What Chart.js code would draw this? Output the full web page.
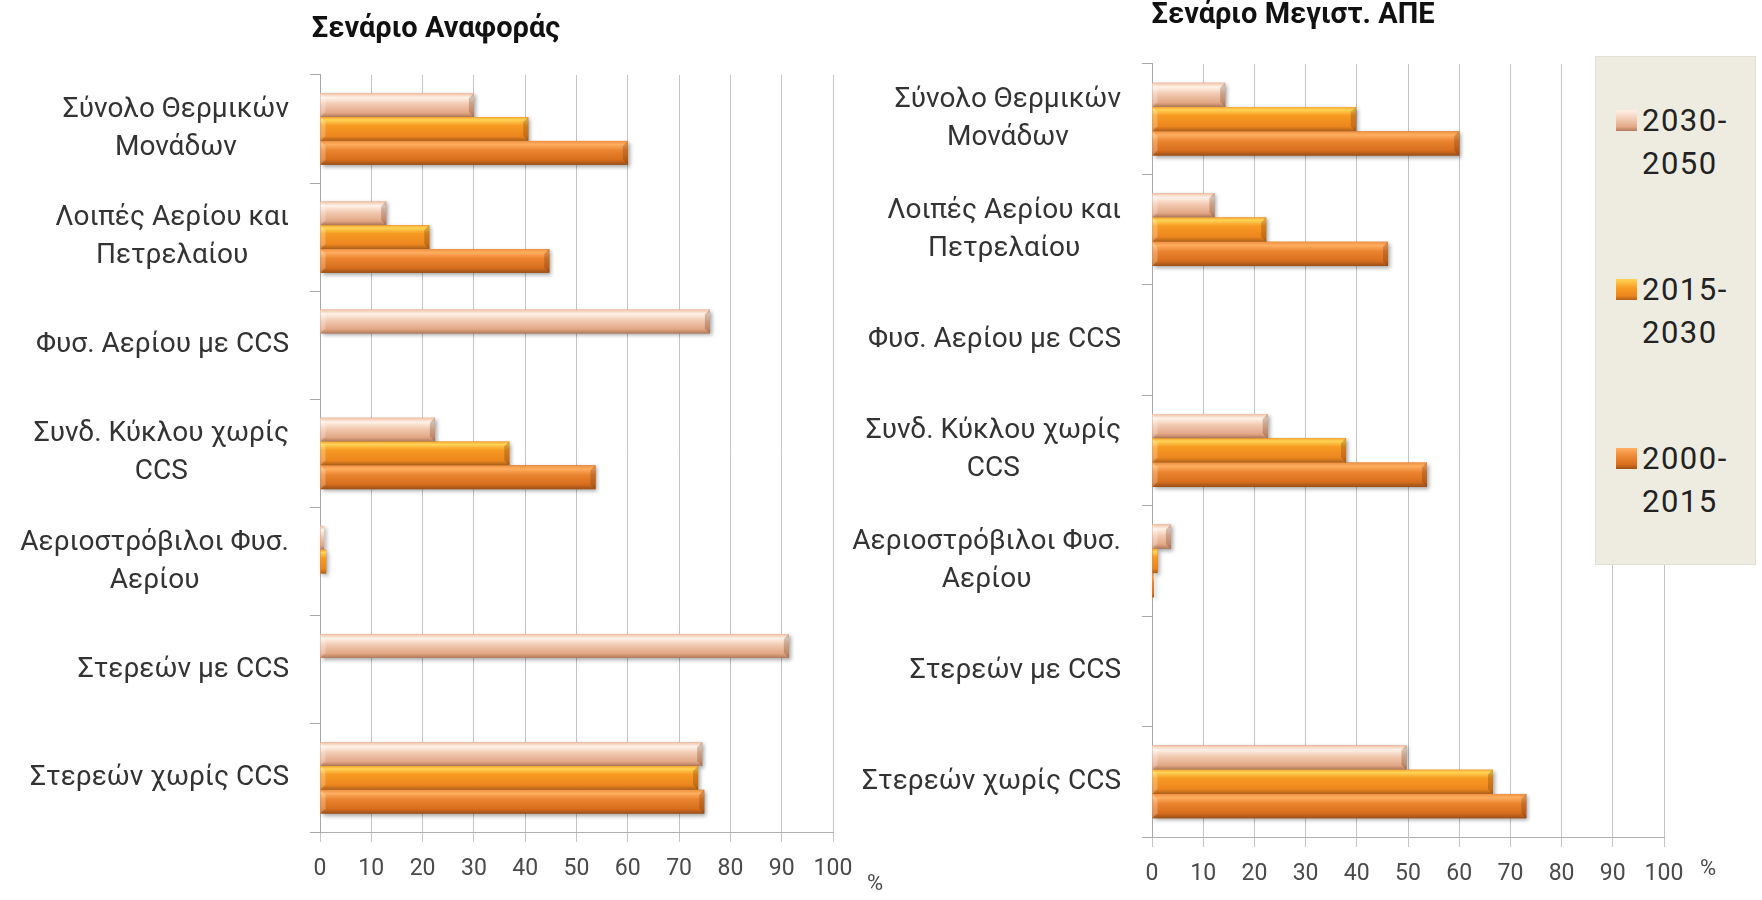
<!DOCTYPE html>
<html>
<head>
<meta charset="utf-8">
<script src="https://cdn.jsdelivr.net/npm/chart.js@4.4.1/dist/chart.umd.min.js"></script>
<style>
	html, body { margin: 0; padding: 0; background: #fff; }
	body { position: relative; width: 1762px; height: 900px; overflow: hidden; font-family: Roboto, sans-serif; }
	#refChart { position: absolute; left: -14px; top: 0; }
	#maxChart { position: absolute; left: 826px; top: 0; }
	#legend { position: absolute; left: 1595px; top: 56px; width: 161px; height: 509px; background: #EEECE1; border: 1px solid #E2E0D6; box-sizing: border-box; }
	.item { position: absolute; left: 0; width: 100%; font-size: 31px; line-height: 43px; color: #222; letter-spacing: 1.5px; }
	.item i { position: absolute; left: 20px; top: 11px; width: 21px; height: 21px; }
	.item span { display: block; margin-left: 46px; }
</style>
</head>
<body>
<canvas id="refChart" width="900" height="900"></canvas>
<canvas id="maxChart" width="910" height="900"></canvas>
<div id="legend"></div>
<script>
// categories, top to bottom
const categories = [
	['Σύνολο Θερμικών', 'Μονάδων'],
	['Λοιπές Αερίου και', 'Πετρελαίου'],
	['Φυσ. Αερίου με CCS'],
	['Συνδ. Κύκλου χωρίς', 'CCS'],
	['Αεριοστρόβιλοι Φυσ.', 'Αερίου'],
	['Στερεών με CCS'],
	['Στερεών χωρίς CCS'],
];

const periods = ['2030-2050', '2015-2030', '2000-2015'];

// Σενάριο Αναφοράς (%)
const ref_2030_2050 = [30, 12.9, 76, 22.4, 0.8, 91.4, 74.5];
const ref_2015_2030 = [40.6, 21.3, null, 36.9, 1.2, null, 73.7];
const ref_2000_2015 = [60, 44.7, null, 53.7, null, null, 74.9];

// Σενάριο Μεγιστ. ΑΠΕ (%)
const max_2030_2050 = [14.3, 12.2, null, 22.6, 3.7, null, 49.7];
const max_2015_2030 = [39.8, 22.3, null, 37.9, 1.1, null, 66.6];
const max_2000_2015 = [60, 46.1, null, 53.7, 0.2, null, 73.1];

const xMin = 0;
const xMax = 100;
const xStep = 10;

// base colour + gradient stops (top -> bottom) per period
const barStyles = [
	{ base: '#E9B596', pos: [0, 0.18, 0.45, 0.82, 1], stops: ['#F0C0A4', '#FFF2E8', '#F2CAB2', '#E2A786', '#B27A5C'] },
	{ base: '#F39321', pos: [0, 0.12, 0.35, 0.8, 1], stops: ['#F7A530', '#FFD455', '#F79A22', '#EC861E', '#B0601A'] },
	{ base: '#E07B26', pos: [0, 0.15, 0.4, 0.8, 1], stops: ['#EE9040', '#FFAE60', '#EA8430', '#D76E1E', '#9A5018'] },
];

function makeGradient(ctx, top, bottom, st) {
	const g = ctx.createLinearGradient(0, top, 0, bottom);
	st.stops.forEach((c, k) => g.addColorStop(st.pos[k], c));
	return g;
}

// draws the glossy bevel look over the library's own bar elements
const bevelBars = {
	id: 'bevelBars',
	afterDatasetsDraw(chart) {
		const ctx = chart.ctx;
		chart.data.datasets.forEach((ds, di) => {
			const meta = chart.getDatasetMeta(di);
			const st = barStyles[di];
			meta.data.forEach((bar, i) => {
				if (ds.data[i] === null) return;
				const left = Math.min(bar.base, bar.x);
				const right = Math.max(bar.base, bar.x);
				const top = bar.y - bar.height / 2;
				const bottom = bar.y + bar.height / 2;
				const w = Math.max(right - left, 1.5);
				ctx.save();
				ctx.shadowColor = 'rgba(0,0,0,0.35)';
				ctx.shadowBlur = 4;
				ctx.shadowOffsetX = 2;
				ctx.shadowOffsetY = 2;
				ctx.fillStyle = makeGradient(ctx, top, bottom, st);
				ctx.fillRect(left, top, w, bottom - top);
				ctx.restore();
				// end chamfers
				if (w > 8) {
					ctx.save();
					ctx.fillStyle = 'rgba(90,40,10,0.25)';
					ctx.beginPath();
					ctx.moveTo(left + w, top);
					ctx.lineTo(left + w - 5, top + 5);
					ctx.lineTo(left + w - 5, bottom - 5);
					ctx.lineTo(left + w, bottom);
					ctx.closePath();
					ctx.fill();
					ctx.fillStyle = 'rgba(255,255,255,0.25)';
					ctx.beginPath();
					ctx.moveTo(left, top);
					ctx.lineTo(left + 5, top + 5);
					ctx.lineTo(left + 5, bottom - 5);
					ctx.lineTo(left, bottom);
					ctx.closePath();
					ctx.fill();
					ctx.restore();
				}
			});
		});
	},
};

// multi-line category labels, lines centred within a right-aligned block
const blockLabels = {
	id: 'blockLabels',
	afterDraw(chart, args, opts) {
		const ctx = chart.ctx;
		const scale = chart.scales.y;
		ctx.save();
		ctx.font = opts.size + 'px ' + opts.family;
		ctx.fillStyle = opts.color;
		ctx.textAlign = 'center';
		ctx.textBaseline = 'middle';
		chart.data.labels.forEach((lines, i) => {
			const y = scale.getPixelForTick(i);
			const w = Math.max(...lines.map((l) => ctx.measureText(l).width));
			const cx = chart.chartArea.left - opts.gap - w / 2;
			lines.forEach((l, k) => {
				ctx.fillText(l, cx, y + (k - (lines.length - 1) / 2) * opts.lineHeight);
			});
		});
		ctx.restore();
	},
};

// the "%" unit next to the value axis
const unitLabel = {
	id: 'unitLabel',
	afterDraw(chart, args, opts) {
		const ctx = chart.ctx;
		ctx.save();
		ctx.font = opts.size + 'px ' + opts.family;
		ctx.fillStyle = opts.color;
		ctx.textAlign = 'center';
		ctx.textBaseline = 'middle';
		ctx.fillText(opts.text, chart.chartArea.right + opts.dx, chart.chartArea.bottom + opts.dy);
		ctx.restore();
	},
};

function makeChart(id, title, series, lay) {
	const datasets = series.map((data, k) => ({
		label: periods[k],
		data: data,
		backgroundColor: barStyles[k].base,
		borderWidth: 0,
		categoryPercentage: 0.66,
		barPercentage: 1.0,
	}));

	return new Chart(document.getElementById(id), {
		type: 'bar',
		data: { labels: categories, datasets: datasets },
		plugins: [bevelBars, blockLabels, unitLabel],
		options: {
			indexAxis: 'y',
			responsive: false,
			animation: false,
			devicePixelRatio: 1,
			layout: { padding: { left: lay.padLeft, right: lay.padRight, top: 0, bottom: 0 } },
			scales: {
				x: {
					min: xMin,
					max: xMax,
					ticks: {
						stepSize: xStep,
						color: '#4A4A4A',
						padding: 13,
						font: { family: 'Roboto', size: 23 },
					},
					grid: { color: '#C4C4C4', lineWidth: 1, tickLength: 10, drawTicks: true },
					border: { color: '#B0B0B0' },
					afterFit: (scale) => {
						scale.height = 900 - lay.bottom;
					},
				},
				y: {
					ticks: { display: false },
					grid: {
						offset: true,
						drawOnChartArea: false,
						drawTicks: true,
						tickLength: 10,
						color: '#A8A8A8',
					},
					border: { color: '#A8A8A8' },
					afterFit: (scale) => {
						scale.width = lay.left - lay.padLeft;
					},
				},
			},
			plugins: {
				legend: { display: false },
				tooltip: { enabled: false },
				title: {
					display: true,
					text: title,
					color: '#111',
					font: { family: 'Roboto', size: 29, weight: 'bold', lineHeight: 1.1 },
					padding: { top: lay.titleTop, bottom: lay.titleBottom },
				},
				blockLabels: { family: 'Roboto', size: 28, color: '#333', gap: 31, lineHeight: 38 },
				unitLabel: { text: '%', family: 'Roboto', size: 22, color: '#4A4A4A', dx: lay.unitDx, dy: lay.unitDy },
			},
		},
	});
}

makeChart('refChart', 'Σενάριο Αναφοράς', [ref_2030_2050, ref_2015_2030, ref_2000_2015], {
	left: 334,
	padLeft: 53,
	padRight: 53,
	bottom: 832,
	titleTop: 14,
	titleBottom: 29,
	unitDx: 42,
	unitDy: 52,
});

makeChart('maxChart', 'Σενάριο Μεγιστ. ΑΠΕ', [max_2030_2050, max_2015_2030, max_2000_2015], {
	left: 326,
	padLeft: 96,
	padRight: 72,
	bottom: 837,
	titleTop: 0,
	titleBottom: 32,
	unitDx: 44,
	unitDy: 32,
});

// legend box
const legend = document.getElementById('legend');
const legendTops = [56, 225, 394];
periods.forEach((p, k) => {
	const item = document.createElement('div');
	item.className = 'item';
	item.style.top = (legendTops[k] - 56 + 42) + 'px';
	const st = barStyles[k].stops;
	const parts = p.split('-');
	item.innerHTML =
		'<i style="background:linear-gradient(' + st[1] + ',' + st[2] + ' 45%,' + st[3] + ' 80%,' + st[4] + ')"></i>' +
		'<span>' + parts[0] + '-<br>' + parts[1] + '</span>';
	legend.appendChild(item);
});
</script>
</body>
</html>
